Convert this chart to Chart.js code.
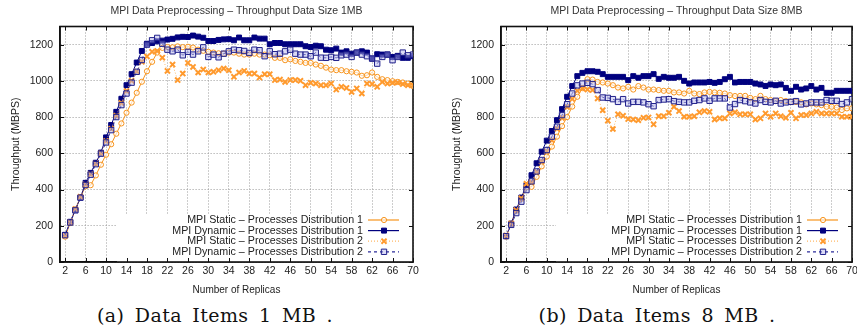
<!DOCTYPE html>
<html>
<head>
<meta charset="utf-8">
<script src="https://cdn.jsdelivr.net/npm/chart.js@4.4.1/dist/chart.umd.min.js"></script>
<style>
  html, body { margin: 0; padding: 0; background: #fff; overflow: hidden; }
  body { width: 857px; height: 333px; position: relative; }
  .box { position: absolute; top: 0; width: 430px; height: 300px; }
  .cap { position: absolute; top: 304px; width: 300px; line-height: 22px; text-align: center;
         font-family: "DejaVu Serif", "Liberation Serif", serif; font-size: 19px; color: #111;
         letter-spacing: 0.4px; word-spacing: 4px; white-space: nowrap; }
</style>
</head>
<body>
<div class="box" style="left:0"><canvas id="c1" width="430" height="300"></canvas></div>
<div class="box" style="left:441px"><canvas id="c2" width="430" height="300"></canvas></div>
<div class="cap" style="left:65px">(a) Data Items 1 MB .</div>
<div class="cap" style="left:507px">(b) Data Items 8 MB .</div>
<script>
// x values (number of replicas)
const replicas = [2, 3, 4, 5, 6, 7, 8, 9, 10, 11, 12, 13, 14, 15, 16, 17, 18, 19, 20, 21, 22, 23, 24, 25, 26,
  27, 28, 29, 30, 31, 32, 33, 34, 35, 36, 37, 38, 39, 40, 41, 42, 43, 44, 45, 46, 47, 48, 49, 50, 51,
  52, 53, 54, 55, 56, 57, 58, 59, 60, 61, 62, 63, 64, 65, 66, 67, 68, 69, 70];
const xTickLabels = [2, 6, 10, 14, 18, 22, 26, 30, 34, 38, 42, 46, 50, 54, 58, 62, 66, 70];
const yTickLabels = [0, 200, 400, 600, 800, 1000, 1200];

const seriesNames = [
  "MPI Static \u2013 Processes Distribution 1",
  "MPI Dynamic \u2013 Processes Distribution 1",
  "MPI Static \u2013 Processes Distribution 2",
  "MPI Dynamic \u2013 Processes Distribution 2",
];

// Data size 1MB
const static1_1MB = [140, 215, 290, 358, 418, 424, 478, 537, 592, 650, 708, 765, 824, 880, 934, 995, 1053, 1105, 1156,
  1182, 1187, 1185, 1190, 1186, 1188, 1184, 1172, 1166, 1160, 1156, 1152, 1150, 1156, 1156, 1150, 1145, 1145, 1150,
  1145, 1145, 1141, 1127, 1127, 1114, 1119, 1110, 1105, 1099, 1099, 1090, 1083, 1073, 1062, 1059, 1059, 1053, 1050,
  1046, 1028, 1031, 1046, 1022, 1009, 1004, 998, 994, 991, 985, 972];
const dynamic1_1MB = [150, 222, 288, 356, 437, 492, 548, 604, 688, 756, 829, 901, 976, 1037, 1101, 1165, 1205, 1209,
  1218, 1222, 1228, 1232, 1240, 1243, 1242, 1250, 1244, 1238, 1220, 1220, 1226, 1229, 1230, 1224, 1239, 1224, 1224,
  1239, 1233, 1233, 1202, 1209, 1209, 1202, 1202, 1202, 1202, 1191, 1187, 1194, 1191, 1172, 1169, 1178, 1156, 1163,
  1150, 1156, 1163, 1156, 1123, 1147, 1145, 1145, 1132, 1138, 1127, 1127, 1136];
const static2_1MB = [145, 220, 292, 360, 428, 484, 543, 600, 668, 735, 808, 878, 944, 1000, 1052, 1105, 1135, 1160,
  1165, 1128, 1055, 1090, 1004, 1040, 1099, 1077, 1046, 1062, 1046, 1050, 1059, 1068, 1059, 1022, 1046, 1055, 1040,
  1040, 1018, 1037, 1037, 1004, 1007, 994, 1004, 1004, 1000, 976, 989, 985, 976, 976, 985, 952, 967, 961, 939, 958,
  930, 985, 982, 967, 994, 985, 989, 991, 982, 976, 975];
const dynamic2_1MB = [148, 218, 285, 355, 425, 482, 540, 598, 660, 728, 800, 866, 930, 990, 1050, 1115, 1200, 1224,
  1237, 1205, 1172, 1163, 1172, 1141, 1160, 1145, 1163, 1185, 1132, 1145, 1130, 1150, 1163, 1172, 1169, 1165, 1154,
  1172, 1169, 1136, 1163, 1147, 1150, 1163, 1172, 1150, 1145, 1145, 1136, 1156, 1128, 1127, 1132, 1127, 1141, 1145,
  1132, 1156, 1145, 1136, 1123, 1095, 1132, 1145, 1114, 1132, 1156, 1141, 1145];

// Data size 8MB
const static1_8MB = [140, 212, 283, 348, 412, 415, 470, 528, 582, 637, 692, 750, 800, 858, 912, 960, 1009, 1007, 994,
  991, 985, 976, 963, 958, 967, 952, 971, 963, 952, 952, 949, 945, 945, 936, 936, 930, 945, 930, 927, 936, 939, 936,
  934, 930, 921, 916, 917, 917, 906, 899, 917, 899, 894, 888, 894, 888, 884, 884, 881, 870, 875, 870, 866, 857, 857,
  853, 839, 848, 848];
const dynamic1_8MB = [143, 212, 290, 356, 424, 479, 545, 609, 670, 723, 783, 844, 912, 971, 1026, 1044, 1053, 1053,
  1050, 1037, 1022, 1022, 1022, 1022, 1004, 1026, 1017, 1026, 1026, 1037, 1011, 1022, 1017, 1017, 1022, 1000, 985,
  991, 991, 991, 994, 989, 994, 1009, 1022, 991, 994, 994, 994, 985, 980, 972, 980, 976, 980, 961, 945, 967, 952,
  958, 971, 952, 961, 934, 934, 945, 945, 945, 945];
const static2_8MB = [146, 213, 286, 352, 432, 440, 498, 555, 612, 672, 735, 795, 855, 900, 945, 958, 952, 949, 903,
  838, 780, 734, 815, 807, 789, 787, 783, 796, 798, 760, 805, 805, 824, 857, 833, 802, 802, 805, 826, 833, 829, 787,
  793, 793, 820, 826, 815, 815, 815, 787, 793, 820, 802, 820, 805, 796, 824, 793, 811, 811, 820, 829, 820, 820, 820,
  820, 802, 802, 802];
const dynamic2_8MB = [143, 205, 270, 333, 397, 445, 500, 563, 618, 692, 747, 811, 871, 930, 975, 985, 989, 982, 949,
  908, 906, 899, 884, 899, 875, 884, 884, 881, 871, 860, 894, 897, 899, 888, 884, 881, 881, 890, 894, 903, 890, 903,
  903, 903, 853, 872, 894, 888, 881, 875, 894, 884, 881, 890, 875, 881, 884, 888, 870, 875, 881, 881, 881, 894, 890,
  890, 872, 881, 899];

Chart.defaults.font.family = '"Liberation Sans", Arial, Helvetica, sans-serif';
Chart.defaults.color = "#222";

const styles = [
  { borderColor: "#f7941d", pointStyle: "circle", pointRadius: 2.6, pointBorderColor: "#f7941d",
    pointBackgroundColor: "rgba(255,255,255,0.6)", pointBorderWidth: 1, borderDash: [] },
  { borderColor: "#00007f", pointStyle: "rect", pointRadius: 3.5, pointBorderColor: "#00007f",
    pointBackgroundColor: "#00007f", pointBorderWidth: 1, borderDash: [] },
  { borderColor: "#ffb866", pointStyle: "crossRot", pointRadius: 3.6, pointBorderColor: "#ff9a2e",
    pointBackgroundColor: "#ff9a2e", pointBorderWidth: 2, borderDash: [1, 2] },
  { borderColor: "#2c2c9a", pointStyle: "rect", pointRadius: 3.8, pointBorderColor: "#22228c",
    pointBackgroundColor: "rgba(175,175,232,0.45)", pointBorderWidth: 1, borderDash: [3, 3] },
];

// gnuplot look: title over the plot, closed frame, inner ticks, opaque key box
const gnuFrame = {
  id: "gnuFrame",
  afterDraw(chart) {
    const { ctx, chartArea: a } = chart;
    ctx.save();
    ctx.font = '10.5px "Liberation Sans", Arial, sans-serif';
    ctx.fillStyle = "#333";
    ctx.textAlign = "center";
    ctx.textBaseline = "middle";
    ctx.fillText(chart.options.plugins.gnuTitle, (a.left + a.right) / 2, 11);
    ctx.restore();
  },
  beforeDatasetsDraw(chart) {
    const { ctx, chartArea: a } = chart;
    const xs = chart.scales.x, ys = chart.scales.y;
    ctx.save();
    ctx.fillStyle = "#fff";
    ctx.fillRect(a.right - 296, a.bottom - 48, 296, 48);
    ctx.strokeStyle = "#111";
    ctx.lineWidth = 1;
    ctx.beginPath();
    xs.ticks.forEach(t => {
      const px = Math.round(xs.getPixelForValue(t.value)) + 0.5;
      ctx.moveTo(px, a.bottom); ctx.lineTo(px, a.bottom - 4);
      ctx.moveTo(px, a.top); ctx.lineTo(px, a.top + 4);
    });
    ys.ticks.forEach(t => {
      const py = Math.round(ys.getPixelForValue(t.value)) + 0.5;
      ctx.moveTo(a.left, py); ctx.lineTo(a.left + 4, py);
      ctx.moveTo(a.right, py); ctx.lineTo(a.right - 4, py);
    });
    ctx.stroke();
    ctx.lineWidth = 1.6;
    ctx.strokeRect(a.left, a.top, a.right - a.left, a.bottom - a.top);
    ctx.restore();
  },
  afterDatasetsDraw(chart) {
    const { ctx, chartArea: a } = chart;
    ctx.save();
    ctx.font = '10.7px "Liberation Sans", Arial, sans-serif';
    ctx.textAlign = "right";
    ctx.textBaseline = "middle";
    seriesNames.forEach((name, i) => {
      const st = styles[i];
      const y = a.bottom - 42 + i * 10.6;
      ctx.fillStyle = "#222";
      ctx.fillText(name, a.right - 50, y);
      ctx.strokeStyle = st.borderColor;
      ctx.lineWidth = 1.2;
      ctx.setLineDash(st.borderDash);
      ctx.beginPath();
      ctx.moveTo(a.right - 45, y);
      ctx.lineTo(a.right - 14, y);
      ctx.stroke();
      ctx.setLineDash([]);
      ctx.strokeStyle = st.pointBorderColor;
      ctx.fillStyle = st.pointBackgroundColor;
      ctx.lineWidth = st.pointBorderWidth;
      Chart.helpers.drawPoint(ctx, { pointStyle: st.pointStyle, radius: st.pointRadius,
        borderWidth: st.pointBorderWidth, rotation: 0 }, a.right - 29, y);
    });
    ctx.restore();
  },
};

function makeChart(id, title, series, padRight) {
  const datasets = series.map((vals, i) => Object.assign({
    label: seriesNames[i],
    data: replicas.map((r, k) => ({ x: r, y: vals[k] })),
    borderWidth: 1,
    fill: false,
    tension: 0,
    order: 4 - i,
  }, styles[i]));

  return new Chart(document.getElementById(id), {
    type: "line",
    data: { datasets: datasets },
    options: {
      responsive: false,
      animation: false,
      layout: { padding: { top: 26.5, right: padRight, bottom: 0, left: 0 } },
      plugins: {
        legend: { display: false },
        tooltip: { enabled: false },
        title: { display: false },
        gnuTitle: title,
      },
      scales: {
        x: {
          type: "linear", min: 1, max: 70,
          afterFit: s => { s.height = 38; },
          afterBuildTicks: s => { s.ticks = xTickLabels.map(v => ({ value: v })); },
          ticks: { font: { size: 10.5 }, padding: 3, maxRotation: 0, autoSkip: false, callback: v => String(v) },
          grid: { color: "#9a9a9a", drawTicks: false },
          border: { display: true, color: "#111", width: 1.6, dash: [1, 2] },
          title: { display: true, text: "Number of Replicas", font: { size: 10 }, padding: { top: 0, bottom: 4 } },
        },
        y: {
          min: 0, max: 1300,
          afterFit: s => { s.width = 60; },
          afterBuildTicks: s => { s.ticks = yTickLabels.map(v => ({ value: v })); },
          ticks: { font: { size: 10.5 }, padding: 7, callback: v => String(v) },
          grid: { color: "#9a9a9a", drawTicks: false },
          border: { display: true, color: "#111", width: 1.6, dash: [1, 2] },
          title: { display: true, text: "Throughput (MBPS)", font: { size: 10.5 }, padding: { top: 10, bottom: 0 } },
        },
      },
    },
    plugins: [gnuFrame],
  });
}

makeChart("c1", "MPI Data Preprocessing \u2013 Throughput Data Size 1MB",
  [static1_1MB, dynamic1_1MB, static2_1MB, dynamic2_1MB], 17);
makeChart("c2", "MPI Data Preprocessing \u2013 Throughput Data Size 8MB",
  [static1_8MB, dynamic1_8MB, static2_8MB, dynamic2_8MB], 19);
</script>
</body>
</html>
